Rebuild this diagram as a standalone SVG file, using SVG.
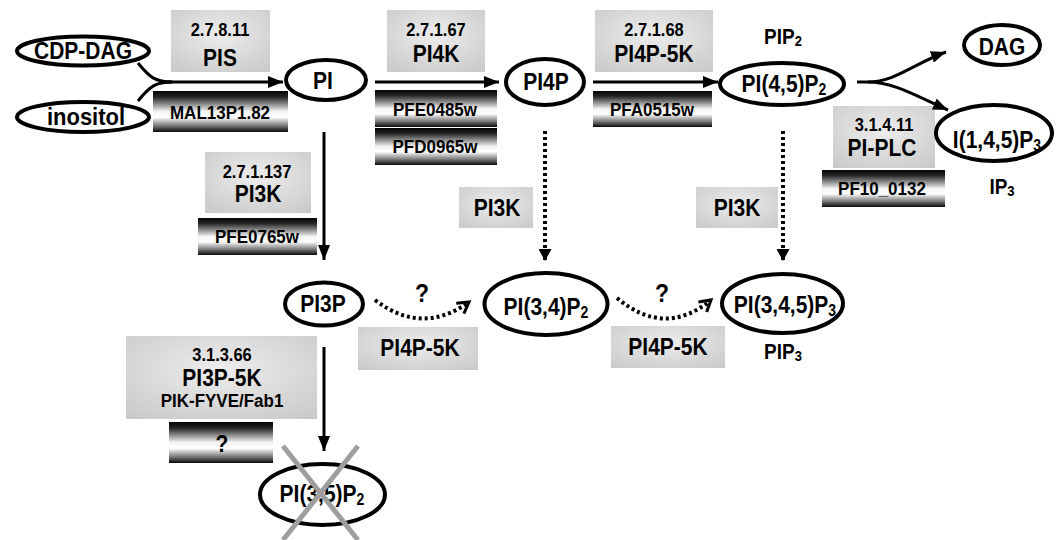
<svg xmlns="http://www.w3.org/2000/svg" width="1056" height="540" viewBox="0 0 1056 540">
<defs>
<radialGradient id="gray" cx="50%" cy="40%" r="75%">
<stop offset="0" stop-color="#ededed"/>
<stop offset="1" stop-color="#c9c9c9"/>
</radialGradient>
<linearGradient id="gene" x1="0" y1="0" x2="0" y2="1">
<stop offset="0" stop-color="#050505"/>
<stop offset="0.14" stop-color="#222"/>
<stop offset="0.5" stop-color="#f4f4f4"/>
<stop offset="0.64" stop-color="#ffffff"/>
<stop offset="0.86" stop-color="#707070"/>
<stop offset="1" stop-color="#0a0a0a"/>
</linearGradient>
<marker id="ah" markerUnits="userSpaceOnUse" markerWidth="15" markerHeight="12" refX="15" refY="6" orient="auto">
<path d="M0,0 L15,6 L0,12 z" fill="#000"/>
</marker>
<marker id="ahd" markerUnits="userSpaceOnUse" markerWidth="12" markerHeight="13" refX="12" refY="6.5" orient="auto">
<path d="M0,0 L12,6.5 L0,13 z" fill="#000"/>
</marker>
<marker id="aho" markerUnits="userSpaceOnUse" markerWidth="16" markerHeight="16" refX="13" refY="8" orient="auto">
<path d="M2,1.5 L13,8 L2,14.5" fill="none" stroke="#000" stroke-width="3"/>
</marker>
</defs>
<style>
text{font-family:"Liberation Sans",Arial,sans-serif;font-weight:bold;fill:#000;text-anchor:middle}
.node{fill:#fff;stroke:#000;stroke-width:4}
.box{fill:url(#gray)}
.gene{fill:url(#gene)}
.lbl{font-size:21px}
.ec{font-size:16.5px}
.gn{font-size:17px}
.sub{font-size:14px}
.solid{fill:none;stroke:#000;stroke-width:3}
.dot{fill:none;stroke:#000;stroke-width:4;stroke-dasharray:3 3}
.cross{stroke:#9e9e9e;stroke-width:5}
</style>

<g id="enzymes">
<g id="ec-pis"><rect class="box" x="171" y="10" width="99" height="62"/><text class="ec" transform="translate(220 36) scale(1 1.12)">2.7.8.11</text><text class="lbl" transform="translate(220 66) scale(1 1.12)">PIS</text></g>
<g id="ec-pi4k"><rect class="box" x="387" y="10" width="98" height="62"/><text class="ec" transform="translate(436 36) scale(1 1.12)">2.7.1.67</text><text class="lbl" transform="translate(436 62) scale(1 1.12)">PI4K</text></g>
<g id="ec-pi4p5k"><rect class="box" x="595" y="10" width="118" height="62"/><text class="ec" transform="translate(654 36) scale(1 1.12)">2.7.1.68</text><text class="lbl" transform="translate(654 62) scale(1 1.12)">PI4P-5K</text></g>
<g id="ec-pi3k"><rect class="box" x="205" y="152" width="106" height="61"/><text class="ec" transform="translate(257 178) scale(1 1.12)">2.7.1.137</text><text class="lbl" transform="translate(258 202) scale(1 1.12)">PI3K</text></g>
<g id="pi3k-mid"><rect class="box" x="459" y="187" width="74" height="41"/><text class="lbl" transform="translate(497 216) scale(1 1.12)">PI3K</text></g>
<g id="pi3k-right"><rect class="box" x="696" y="187" width="82" height="41"/><text class="lbl" transform="translate(737 216) scale(1 1.12)">PI3K</text></g>
<g id="pi4p5k-left"><rect class="box" x="358" y="327" width="120" height="43"/><text class="lbl" transform="translate(420 356) scale(1 1.12)">PI4P-5K</text></g>
<g id="pi4p5k-right"><rect class="box" x="611" y="326" width="114" height="42"/><text class="lbl" transform="translate(668 355) scale(1 1.12)">PI4P-5K</text></g>
<g id="ec-piplc"><rect class="box" x="833" y="106" width="102" height="62"/><text class="ec" transform="translate(884 131) scale(1 1.12)">3.1.4.11</text><text class="lbl" transform="translate(882 156) scale(1 1.12)">PI-PLC</text></g>
<g id="ec-pi3p5k"><rect class="box" x="126" y="336" width="191" height="83"/><text class="ec" transform="translate(222 361) scale(1 1.12)">3.1.3.66</text><text class="lbl" transform="translate(222 386) scale(1 1.12)">PI3P-5K</text><text class="gn" transform="translate(222 407) scale(1 1.12)">PIK-FYVE/Fab1</text></g>
</g>

<g id="genes">
<g id="g-mal13p1"><rect class="gene" x="153" y="91" width="135" height="41"/><text class="gn" transform="translate(220 119) scale(1 1.12)">MAL13P1.82</text></g>
<g id="g-pfe0485w"><rect class="gene" x="375" y="90" width="122" height="37"/><text class="gn" transform="translate(435 116) scale(1 1.12)">PFE0485w</text></g>
<g id="g-pfd0965w"><rect class="gene" x="375" y="128" width="122" height="37"/><text class="gn" transform="translate(435 153) scale(1 1.12)">PFD0965w</text></g>
<g id="g-pfa0515w"><rect class="gene" x="593" y="91" width="119" height="36"/><text class="gn" transform="translate(652 116) scale(1 1.12)">PFA0515w</text></g>
<g id="g-pfe0765w"><rect class="gene" x="198" y="218" width="119" height="37"/><text class="gn" transform="translate(257 243) scale(1 1.12)">PFE0765w</text></g>
<g id="g-pf10_0132"><rect class="gene" x="822" y="170" width="123" height="37"/><text class="gn" transform="translate(882 195) scale(1 1.12)">PF10_0132</text></g>
<g id="g-unknown"><rect class="gene" x="169" y="422" width="104" height="41"/><text class="gn" style="font-size:21px" transform="translate(222 452) scale(1 1.1)">?</text></g>
</g>

<g id="connectors">
<path class="solid" d="M138,63 C150,78 156,82 172,82"/>
<path class="solid" d="M138,101 C150,86 156,82 172,82"/>
<path class="solid" d="M165,82 L283,82" marker-end="url(#ah)"/>
<path class="solid" d="M375,82 L499,82" marker-end="url(#ah)"/>
<path class="solid" d="M593,82 L718,82" marker-end="url(#ah)"/>
<path class="solid" d="M324,132 L324,260" marker-end="url(#ah)"/>
<path class="solid" d="M324,347 L324,451" marker-end="url(#ah)"/>
<path class="solid" d="M857,82 L868,82 C895,82 915,63 946,52" marker-end="url(#ah)" stroke-width="3.5"/>
<path class="solid" d="M868,82 C895,82 920,98 948,110" marker-end="url(#ah)" stroke-width="3.5"/>
<path class="dot" d="M545,131 L545,261" marker-end="url(#ahd)"/>
<path class="dot" d="M783,131 L783,261" marker-end="url(#ahd)"/>
<path class="dot" d="M375,300 Q422,336 469,302" marker-end="url(#aho)"/>
<path class="dot" d="M617,298 Q665,338 711,300" marker-end="url(#aho)"/>
<text style="font-size:23px" transform="translate(422 302) scale(1 1.12)">?</text>
<text style="font-size:23px" transform="translate(662 302) scale(1 1.12)">?</text>
</g>

<g id="n-cdpdag"><ellipse class="node" cx="83" cy="51" rx="66" ry="14.5"/><text class="lbl" transform="translate(83 59) scale(1 1.12)">CDP-DAG</text></g>
<g id="n-inositol"><ellipse class="node" cx="83" cy="117" rx="66" ry="15"/><text class="lbl" style="font-size:22px" transform="translate(86 125) scale(1 1.12)">inositol</text></g>
<g id="n-pi"><ellipse class="node" cx="326" cy="80" rx="40" ry="20"/><text class="lbl" transform="translate(323 89) scale(1 1.12)">PI</text></g>
<g id="n-pi4p"><ellipse class="node" cx="545" cy="82" rx="39" ry="23"/><text class="lbl" transform="translate(546 90) scale(1 1.12)">PI4P</text></g>
<g id="n-pi45p2"><text class="lbl" style="font-size:19px" transform="translate(783 44) scale(1 1.12)">PIP<tspan class="sub" style="font-size:13px" dy="2">2</tspan></text><ellipse class="node" cx="782" cy="84" rx="62" ry="21"/><text class="lbl" transform="translate(784 92) scale(1 1.12)">PI(4,5)P<tspan class="sub" dy="3">2</tspan></text></g>
<g id="n-dag"><ellipse class="node" cx="1002" cy="45" rx="38" ry="20"/><text class="lbl" transform="translate(1002 55) scale(1 1.12)">DAG</text></g>
<g id="n-ip3"><ellipse class="node" cx="994" cy="133" rx="58" ry="28"/><text class="lbl" transform="translate(997 148) scale(1 1.12)">I(1,4,5)P<tspan class="sub" dy="3">3</tspan></text><text class="lbl" style="font-size:19px" transform="translate(1002 194) scale(1 1.12)">IP<tspan class="sub" style="font-size:13px" dy="2">3</tspan></text></g>
<g id="n-pi3p"><ellipse class="node" cx="324" cy="304" rx="39" ry="21.5"/><text class="lbl" transform="translate(323 312) scale(1 1.12)">PI3P</text></g>
<g id="n-pi34p2"><ellipse class="node" cx="546" cy="304" rx="61.5" ry="31"/><text class="lbl" transform="translate(546 315) scale(1 1.12)">PI(3,4)P<tspan class="sub" dy="3">2</tspan></text></g>
<g id="n-pi345p3"><ellipse class="node" cx="782.5" cy="303.5" rx="60.5" ry="29.5"/><text class="lbl" transform="translate(785 313) scale(1 1.12)">PI(3,4,5)P<tspan class="sub" dy="3">3</tspan></text><text class="lbl" style="font-size:19px" transform="translate(783 359) scale(1 1.12)">PIP<tspan class="sub" style="font-size:13px" dy="2">3</tspan></text></g>
<g id="n-pi35p2"><ellipse class="node" cx="322.5" cy="494.5" rx="62.5" ry="30.5"/><text class="lbl" transform="translate(322 502) scale(1 1.12)">PI(3,5)P<tspan class="sub" dy="3">2</tspan></text><line class="cross" x1="283" y1="446" x2="358" y2="540"/><line class="cross" x1="358" y1="446" x2="283" y2="540"/></g>
</svg>
